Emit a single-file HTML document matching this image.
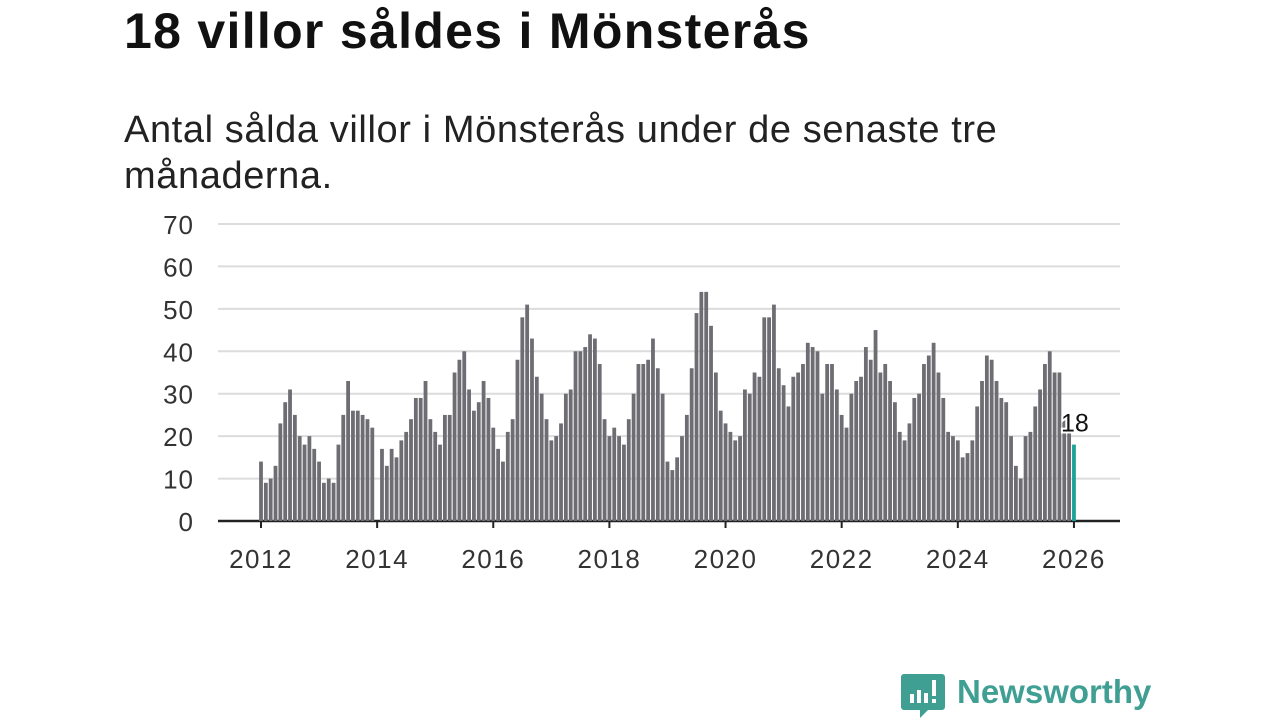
<!DOCTYPE html>
<html><head><meta charset="utf-8"><style>
body{margin:0;width:1280px;height:720px;background:#fff;overflow:hidden;font-family:"Liberation Sans","DejaVu Sans",sans-serif;}
#title{position:absolute;left:124px;top:3px;font-size:50px;font-weight:bold;color:#111;margin:0;letter-spacing:1.3px;line-height:57px;white-space:nowrap}
#sub{position:absolute;left:124px;top:107px;font-size:38px;letter-spacing:0.6px;color:#222;line-height:46px;width:1000px}
svg{position:absolute;left:0;top:0}
</style></head><body>
<h1 id="title">18 villor såldes i Mönsterås</h1>
<div id="sub">Antal sålda villor i Mönsterås under de senaste tre månaderna.</div>
<svg id="chart" width="1280" height="720"></svg>
<svg width="1280" height="720" style="pointer-events:none">
<g>
<path d="M904 674 h38 a3 3 0 0 1 3 3 v30 a3 3 0 0 1 -3 3 h-14 l-8 8 v-8 h-16 a3 3 0 0 1 -3 -3 v-30 a3 3 0 0 1 3 -3z" fill="#3f9f93"/>
<rect x="910" y="694" width="4" height="9" fill="#fff"/><rect x="917" y="690" width="4" height="13" fill="#fff"/><rect x="924" y="693" width="4" height="10" fill="#fff"/><rect x="932" y="680" width="4" height="16" fill="#fff"/><rect x="932" y="699" width="4" height="4" fill="#fff"/>
</g>
<text x="957" y="703" font-size="33" font-weight="bold" fill="#3f9f93" font-family="Liberation Sans, sans-serif">Newsworthy</text>
</svg>
<script>
const years = [2012,2013,2014,2015,2016,2017,2018,2019,2020,2021,2022,2023,2024,2025,2026];
const values = [
14,9,10,13,23,28,31,25,20,18,20,17,
14,9,10,9,18,25,33,26,26,25,24,22,
0,17,13,17,15,19,21,24,29,29,33,24,
21,18,25,25,35,38,40,31,26,28,33,29,
22,17,14,21,24,38,48,51,43,34,30,24,
19,20,23,30,31,40,40,41,44,43,37,24,
20,22,20,18,24,30,37,37,38,43,36,30,
14,12,15,20,25,36,49,54,54,46,35,26,
23,21,19,20,31,30,35,34,48,48,51,36,
32,27,34,35,37,42,41,40,30,37,37,31,
25,22,30,33,34,41,38,45,35,37,33,28,
21,19,23,29,30,37,39,42,35,29,21,20,
19,15,16,19,27,33,39,38,33,29,28,20,
13,10,20,21,27,31,37,40,35,35,24,21,
18];
const yTicks = [0,10,20,30,40,50,60,70];
const xTicks = [2012,2014,2016,2018,2020,2022,2024,2026];
const NS='http://www.w3.org/2000/svg';
const svg=document.getElementById('chart');
const x0=261, perMonth=4.839, y0=521, perUnit=4.243;
const xs=m=>x0+m*perMonth;
const ys=v=>y0-v*perUnit;
function mk(t,a){const e=document.createElementNS(NS,t);for(const k in a)e.setAttribute(k,a[k]);svg.appendChild(e);return e;}
yTicks.forEach(v=>{
  const l=mk('line',{x1:218,x2:1120,y1:ys(v),y2:ys(v),stroke:v===0?'#222':'#dcdcdc','stroke-width':v===0?2.5:2});
  
  
  const t=mk('text',{x:194,y:ys(v)+10,'text-anchor':'end','font-size':26,'letter-spacing':1,fill:'#333'});
  t.textContent=v;
  
  
});
values.forEach((v,i)=>{
  if(v<=0)return;
  const last=i===values.length-1;
  const r=mk('rect',{x:xs(i)-1.9,y:ys(v),width:3.8,height:v*perUnit,fill:last?'#1aa399':'#6e6d73'});
  
  
});
xTicks.forEach(yr=>{
  const m=(yr-years[0])*12;
  const l=mk('line',{x1:xs(m),x2:xs(m),y1:y0,y2:y0+7,stroke:'#222','stroke-width':2});
  
  
  const t=mk('text',{x:xs(m),y:568,'text-anchor':'middle','font-size':26,'letter-spacing':1.5,fill:'#333'});
  t.textContent=yr;
  
  
});
const li=values.length-1;
const lab=mk('text',{x:xs(li)-13,y:ys(values[li])-13,'font-size':25,fill:'#111',stroke:'#fff','stroke-width':4,'paint-order':'stroke'});
lab.textContent=values[li];


</script>
</body></html>
